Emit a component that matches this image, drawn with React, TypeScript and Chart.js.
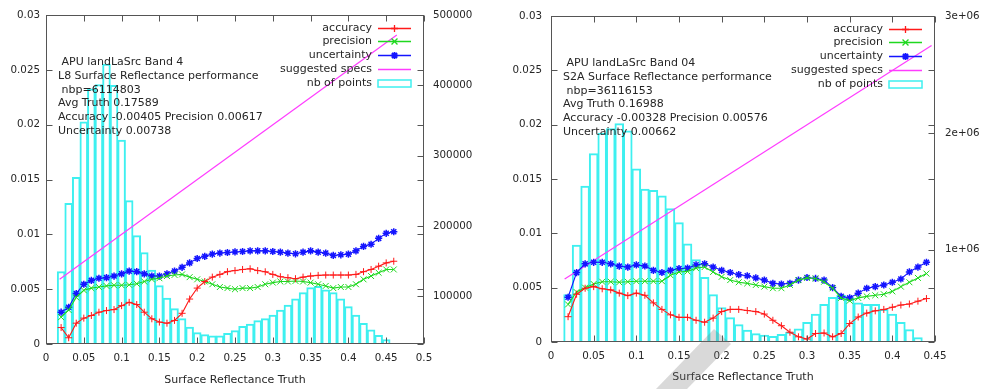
import React, { useEffect, useRef } from "react";
import { Chart, registerables } from "chart.js";

Chart.register(...registerables);

const FONT = "'DejaVu Sans', sans-serif";
const RED = "#ff1a1a";
const GREEN = "#1fd81f";
const BLUE = "#1414ff";
const MAGENTA = "#ff3cff";
const CYAN = "#3ef0f0";
const FRAME = "#555555";
const TEXT = "#262626";

// ================= Panel 1 : L8 =================
const L8_X = [
  0.02, 0.03, 0.04, 0.05, 0.06, 0.07, 0.08, 0.09, 0.1, 0.11, 0.12, 0.13, 0.14, 0.15, 0.16,
  0.17, 0.18, 0.19, 0.2, 0.21, 0.22, 0.23, 0.24, 0.25, 0.26, 0.27, 0.28, 0.29, 0.3, 0.31,
  0.32, 0.33, 0.34, 0.35, 0.36, 0.37, 0.38, 0.39, 0.4, 0.41, 0.42, 0.43, 0.44, 0.45, 0.46,
];
const L8_ACCURACY = [
  0.0015, 0.00057, 0.0019, 0.00236, 0.0026, 0.0029, 0.00305, 0.00314, 0.0035, 0.0038, 0.0036,
  0.0029, 0.0023, 0.002, 0.0019, 0.00215, 0.0028, 0.0041, 0.0051, 0.0057, 0.0061, 0.00635,
  0.0066, 0.0067, 0.0068, 0.00686, 0.0067, 0.00659, 0.00635, 0.00614, 0.00605, 0.00596, 0.0061,
  0.0062, 0.00626, 0.00629, 0.00629, 0.00629, 0.00629, 0.00635, 0.0066, 0.0068, 0.0071, 0.0074,
  0.00755,
];
const L8_PRECISION = [
  0.00245, 0.0031, 0.00425, 0.0049, 0.0051, 0.0052, 0.0053, 0.00536, 0.00536, 0.0054, 0.0055,
  0.0057, 0.0059, 0.006, 0.0062, 0.0063, 0.00635, 0.0061, 0.0059, 0.0057, 0.00545, 0.0052,
  0.0051, 0.005, 0.0051, 0.0051, 0.0052, 0.00545, 0.0056, 0.0057, 0.0057, 0.00575, 0.0057,
  0.0056, 0.00545, 0.0053, 0.0051, 0.0052, 0.0052, 0.00545, 0.0059, 0.0062, 0.0065, 0.0068,
  0.0068,
];
const L8_UNCERTAINTY = [
  0.0029, 0.00335, 0.0046, 0.00545, 0.0058, 0.006, 0.00605, 0.0062, 0.0064, 0.00665, 0.0066,
  0.0064, 0.0062, 0.0062, 0.0064, 0.00665, 0.007, 0.0074, 0.0078, 0.008, 0.0082, 0.0083,
  0.00835, 0.0084, 0.00844, 0.0085, 0.0085, 0.0085, 0.00844, 0.00838, 0.00829, 0.00823, 0.00838,
  0.0085, 0.00838, 0.00829, 0.00808, 0.00814, 0.0082, 0.0085, 0.0089, 0.0091, 0.00964, 0.0101,
  0.01024,
];
const L8_SPEC_X = [0.018, 0.464];
const L8_SPEC_Y = [0.0059, 0.0282];
const L8_HIST_X = [
  0.02, 0.03, 0.04, 0.05, 0.06, 0.07, 0.08, 0.09, 0.1, 0.11, 0.12, 0.13, 0.14, 0.15, 0.16,
  0.17, 0.18, 0.19, 0.2, 0.21, 0.22, 0.23, 0.24, 0.25, 0.26, 0.27, 0.28, 0.29, 0.3, 0.31,
  0.32, 0.33, 0.34, 0.35, 0.36, 0.37, 0.38, 0.39, 0.4, 0.41, 0.42, 0.43, 0.44, 0.45,
];
const L8_HIST = [
  135000, 232000, 269000, 348000, 395000, 401000, 430000, 400000, 322000, 236000, 186000,
  162000, 137000, 115000, 97000, 82000, 68000, 56000, 48000, 45000, 43500, 43500, 47000,
  51000, 57000, 60000, 65000, 68000, 73000, 80000, 87000, 96000, 105000, 112000, 114000,
  109000, 105000, 96000, 85000, 73000, 61000, 52000, 44000, 38000,
];
const L8_X_TICKS = [0, 0.05, 0.1, 0.15, 0.2, 0.25, 0.3, 0.35, 0.4, 0.45, 0.5];
const L8_X_LABELS = ["0", "0.05", "0.1", "0.15", "0.2", "0.25", "0.3", "0.35", "0.4", "0.45", "0.5"];
const L8_Y2_TICKS = [100000, 200000, 300000, 400000, 500000];
const L8_Y2_LABELS = ["100000", "200000", "300000", "400000", "500000"];
const L8_Y2_MIN = 32000;
const L8_Y2_MAX = 500000;
const L8_INFO = [
  " APU landLaSrc Band 4",
  "L8 Surface Reflectance performance",
  " nbp=6114803",
  "Avg Truth 0.17589",
  "Accuracy -0.00405 Precision 0.00617",
  "Uncertainty 0.00738",
];

// ================= Panel 2 : S2A =================
const S2_X = [
  0.02, 0.03, 0.04, 0.05, 0.06, 0.07, 0.08, 0.09, 0.1, 0.11, 0.12, 0.13, 0.14, 0.15, 0.16,
  0.17, 0.18, 0.19, 0.2, 0.21, 0.22, 0.23, 0.24, 0.25, 0.26, 0.27, 0.28, 0.29, 0.3, 0.31,
  0.32, 0.33, 0.34, 0.35, 0.36, 0.37, 0.38, 0.39, 0.4, 0.41, 0.42, 0.43, 0.44,
];
const S2_ACCURACY = [
  0.00233, 0.0044, 0.00495, 0.0051, 0.0049, 0.0048, 0.0045, 0.00427, 0.0045, 0.0043, 0.0036,
  0.003, 0.0025, 0.00227, 0.00227, 0.002, 0.00182, 0.0022, 0.0028, 0.003, 0.003, 0.0029,
  0.0028, 0.00257, 0.002, 0.0015, 0.0009, 0.00048, 0.00027, 0.00078, 0.00083, 0.00048, 0.00078,
  0.0017, 0.0023, 0.00266, 0.00287, 0.003, 0.0032, 0.0034, 0.0035, 0.00376, 0.004,
];
const S2_PRECISION = [
  0.00346, 0.0046, 0.005, 0.00534, 0.00555, 0.00555, 0.0055, 0.00555, 0.0056, 0.0056, 0.0056,
  0.0056, 0.00615, 0.00645, 0.0065, 0.0068, 0.0069, 0.00645, 0.006, 0.0057, 0.0055, 0.0054,
  0.00525, 0.0051, 0.00495, 0.00495, 0.00525, 0.0057, 0.0059, 0.00585, 0.00555, 0.00495,
  0.00406, 0.0038, 0.00406, 0.0042, 0.0043, 0.0044, 0.00466, 0.0051, 0.0055, 0.0059, 0.0063,
];
const S2_UNCERTAINTY = [
  0.00412, 0.00639, 0.0072, 0.00734, 0.00734, 0.0072, 0.00698, 0.0069, 0.0071, 0.007, 0.0066,
  0.0064, 0.0066, 0.00675, 0.0068, 0.0071, 0.0072, 0.0069, 0.0066, 0.0064, 0.0062, 0.0061,
  0.0059, 0.0057, 0.0054, 0.00534, 0.0054, 0.0057, 0.00594, 0.00585, 0.0057, 0.00501, 0.0042,
  0.00406, 0.0045, 0.00495, 0.0051, 0.00525, 0.0055, 0.0058, 0.00645, 0.0069, 0.00734,
];
const S2_SPEC_X = [0.016, 0.446];
const S2_SPEC_Y = [0.0058, 0.0273];
const S2_HIST_X = [
  0.02, 0.03, 0.04, 0.05, 0.06, 0.07, 0.08, 0.09, 0.1, 0.11, 0.12, 0.13, 0.14, 0.15, 0.16,
  0.17, 0.18, 0.19, 0.2, 0.21, 0.22, 0.23, 0.24, 0.25, 0.26, 0.27, 0.28, 0.29, 0.3, 0.31,
  0.32, 0.33, 0.34, 0.35, 0.36, 0.37, 0.38, 0.39, 0.4, 0.41, 0.42, 0.43,
];
const S2_HIST = [
  614000, 1039000, 1544000, 1822000, 1997000, 2036000, 2078000, 2017000, 1692000, 1517000,
  1508000, 1461000, 1350000, 1231000, 1050000, 914000, 762000, 614000, 503000, 418000, 357000,
  311000, 281000, 267000, 258000, 275000, 294000, 322000, 378000, 447000, 531000, 592000,
  608000, 586000, 544000, 531000, 531000, 489000, 447000, 378000, 314000, 247000,
];
const S2_X_TICKS = [0, 0.05, 0.1, 0.15, 0.2, 0.25, 0.3, 0.35, 0.4, 0.45];
const S2_X_LABELS = ["0", "0.05", "0.1", "0.15", "0.2", "0.25", "0.3", "0.35", "0.4", "0.45"];
const S2_Y2_TICKS = [1000000, 2000000, 3000000];
const S2_Y2_LABELS = ["1e+06", "2e+06", "3e+06"];
const S2_Y2_MIN = 210000;
const S2_Y2_MAX = 3000000;
const S2_INFO = [
  " APU landLaSrc Band 04",
  "S2A Surface Reflectance performance",
  " nbp=36116153",
  "Avg Truth 0.16988",
  "Accuracy -0.00328 Precision 0.00576",
  "Uncertainty 0.00662",
];

// shared left axis
const Y_TICKS = [0, 0.005, 0.01, 0.015, 0.02, 0.025, 0.03];
const Y_LABELS = ["0", "0.005", "0.01", "0.015", "0.02", "0.025", "0.03"];
const X_TITLE = "Surface Reflectance Truth";

// ---------- helpers ----------
function drawMarker(ctx: CanvasRenderingContext2D, style: string, x: number, y: number, r: number) {
  ctx.beginPath();
  if (style === "cross" || style === "star") {
    ctx.moveTo(x - r, y);
    ctx.lineTo(x + r, y);
    ctx.moveTo(x, y - r);
    ctx.lineTo(x, y + r);
  }
  if (style === "crossRot" || style === "star") {
    const d = r * Math.SQRT1_2;
    ctx.moveTo(x - d, y - d);
    ctx.lineTo(x + d, y + d);
    ctx.moveTo(x - d, y + d);
    ctx.lineTo(x + d, y - d);
  }
  ctx.stroke();
}

const framePlugin = {
  id: "gpFrame",
  afterDatasetsDraw(chart: any) {
    const { ctx, chartArea: a, scales } = chart;
    const L = Math.round(a.left) + 0.5;
    const R = Math.round(a.right) - 0.5;
    const T = Math.round(a.top) + 0.5;
    const B = Math.round(a.bottom) - 0.5;
    const len = 6;
    ctx.save();
    ctx.strokeStyle = FRAME;
    ctx.lineWidth = 1;
    ctx.strokeRect(L, T, R - L, B - T);
    ctx.beginPath();
    for (const t of scales.x.ticks) {
      const px = Math.round(scales.x.getPixelForValue(t.value)) + 0.5;
      ctx.moveTo(px, B);
      ctx.lineTo(px, B - len);
      ctx.moveTo(px, T);
      ctx.lineTo(px, T + len);
    }
    for (const t of scales.y.ticks) {
      const py = Math.round(scales.y.getPixelForValue(t.value)) + 0.5;
      ctx.moveTo(L, py);
      ctx.lineTo(L + len, py);
      ctx.moveTo(R, py);
      ctx.lineTo(R - len, py);
    }
    for (const t of scales.y2.ticks) {
      const py = Math.round(scales.y2.getPixelForValue(t.value)) + 0.5;
      ctx.moveTo(R, py);
      ctx.lineTo(R - len, py);
    }
    ctx.stroke();
    ctx.restore();
  },
};

const overlayPlugin = {
  id: "gpOverlay",
  afterDraw(chart: any, _args: any, opts: any) {
    const { ctx, chartArea: a } = chart;
    ctx.save();
    ctx.font = `11px ${FONT}`;
    ctx.fillStyle = TEXT;
    ctx.textBaseline = "middle";
    ctx.textAlign = "left";
    (opts.info as string[]).forEach((line, i) => {
      ctx.fillText(line, a.left + 12, a.top + 47 + i * 13.8);
    });
    // legend
    const textRight = a.right - 52;
    const s0 = a.right - 46;
    const s1 = a.right - 13;
    chart.data.datasets.forEach((ds: any, i: number) => {
      const y = Math.round(a.top + 12.5 + i * 13.8) + 0.5;
      ctx.fillStyle = TEXT;
      ctx.textAlign = "right";
      ctx.fillText(ds.label, textRight, y);
      ctx.strokeStyle = ds.borderColor;
      ctx.lineWidth = 1.5;
      if (ds.type === "bar") {
        ctx.strokeRect(s0, y - 3.5, s1 - s0, 7);
      } else {
        ctx.beginPath();
        ctx.moveTo(s0, y);
        ctx.lineTo(s1, y);
        ctx.stroke();
        if (ds.pointRadius > 0) {
          ctx.lineWidth = ds.pointBorderWidth + 0.3;
          drawMarker(ctx, ds.pointStyle, (s0 + s1) / 2, y, ds.pointRadius);
        }
      }
    });
    ctx.restore();
  },
};

type PanelData = {
  x: number[];
  acc: number[];
  prec: number[];
  unc: number[];
  specX: number[];
  specY: number[];
  histX: number[];
  hist: number[];
  xTicks: number[];
  xLabels: string[];
  xMax: number;
  y2Ticks: number[];
  y2Labels: string[];
  y2Min: number;
  y2Max: number;
  info: string[];
};

type PanelLayout = {
  left: number;
  top: number;
  yWidth: number;
  y2Width: number;
  xHeight: number;
  yPad: number;
  y2Pad: number;
  titleBottom: number;
};

const L8_PANEL: PanelData = {
  x: L8_X, acc: L8_ACCURACY, prec: L8_PRECISION, unc: L8_UNCERTAINTY,
  specX: L8_SPEC_X, specY: L8_SPEC_Y, histX: L8_HIST_X, hist: L8_HIST,
  xTicks: L8_X_TICKS, xLabels: L8_X_LABELS, xMax: 0.5,
  y2Ticks: L8_Y2_TICKS, y2Labels: L8_Y2_LABELS, y2Min: L8_Y2_MIN, y2Max: L8_Y2_MAX,
  info: L8_INFO,
};
const S2_PANEL: PanelData = {
  x: S2_X, acc: S2_ACCURACY, prec: S2_PRECISION, unc: S2_UNCERTAINTY,
  specX: S2_SPEC_X, specY: S2_SPEC_Y, histX: S2_HIST_X, hist: S2_HIST,
  xTicks: S2_X_TICKS, xLabels: S2_X_LABELS, xMax: 0.45,
  y2Ticks: S2_Y2_TICKS, y2Labels: S2_Y2_LABELS, y2Min: S2_Y2_MIN, y2Max: S2_Y2_MAX,
  info: S2_INFO,
};

const L8_LAYOUT: PanelLayout = { left: 0, top: 10, yWidth: 46, y2Width: 67, xHeight: 45, yPad: 6, y2Pad: 9, titleBottom: 2.4 };
const S2_LAYOUT: PanelLayout = { left: 491, top: 7, yWidth: 60, y2Width: 47, xHeight: 47, yPad: 9, y2Pad: 10, titleBottom: 5.4 };

const W = 491;
const H = 389;

function zip(xs: number[], ys: number[]) {
  return xs.map((x, i) => ({ x, y: ys[i] }));
}

function makeConfig(p: PanelData, l: PanelLayout): any {
  const tickFont = { family: FONT, size: 10.3 };
  const lineDs = (label: string, ys: number[], color: string, style: string, r: number, bw: number) => ({
    type: "line",
    label,
    data: zip(p.x, ys),
    yAxisID: "y",
    borderColor: color,
    backgroundColor: color,
    borderWidth: 1.1,
    pointStyle: style,
    pointRadius: r,
    pointBorderWidth: bw,
    pointBorderColor: color,
    pointBackgroundColor: color,
    tension: 0,
    fill: false,
    order: 1,
  });
  return {
    type: "line",
    data: {
      datasets: [
        lineDs("accuracy", p.acc, RED, "cross", 3.5, 1),
        lineDs("precision", p.prec, GREEN, "crossRot", 4.2, 1),
        lineDs("uncertainty", p.unc, BLUE, "star", 3.6, 1.5),
        {
          type: "line",
          label: "suggested specs",
          data: zip(p.specX, p.specY),
          yAxisID: "y",
          borderColor: MAGENTA,
          backgroundColor: MAGENTA,
          borderWidth: 1.2,
          pointRadius: 0,
          pointStyle: "line",
          pointBorderWidth: 0,
          tension: 0,
          fill: false,
          order: 2,
        },
        {
          type: "bar",
          label: "nb of points",
          data: zip(p.histX, p.hist),
          yAxisID: "y2",
          borderColor: CYAN,
          backgroundColor: "rgba(0,0,0,0)",
          borderWidth: 1,
          inflateAmount: 0.5,
          borderSkipped: false,
          barPercentage: 1,
          categoryPercentage: 1,
          order: 10,
        },
      ],
    },
    options: {
      animation: false,
      responsive: false,
      devicePixelRatio: 1,
      events: [],
      layout: { padding: { top: l.top, left: 0, right: 0, bottom: 0 } },
      plugins: {
        legend: { display: false },
        tooltip: { enabled: false },
        gpOverlay: { info: p.info },
      },
      scales: {
        x: {
          type: "linear",
          min: 0,
          max: p.xMax,
          offset: false,
          grid: { display: false, drawTicks: false, offset: false },
          border: { display: false },
          afterBuildTicks: (s: any) => {
            s.ticks = p.xTicks.map((v) => ({ value: v }));
          },
          afterFit: (s: any) => {
            s.height = l.xHeight;
          },
          ticks: {
            font: tickFont,
            color: TEXT,
            padding: 8,
            autoSkip: false,
            maxRotation: 0,
            callback: (_v: any, i: number) => p.xLabels[i],
          },
          title: {
            display: true,
            text: X_TITLE,
            color: TEXT,
            font: { family: FONT, size: 11 },
            padding: { top: 0, bottom: l.titleBottom },
          },
        },
        y: {
          type: "linear",
          position: "left",
          min: 0,
          max: 0.03,
          grid: { display: false, drawTicks: false },
          border: { display: false },
          afterBuildTicks: (s: any) => {
            s.ticks = Y_TICKS.map((v) => ({ value: v }));
          },
          afterFit: (s: any) => {
            s.width = l.yWidth;
          },
          ticks: {
            font: tickFont,
            color: TEXT,
            padding: l.yPad,
            autoSkip: false,
            callback: (_v: any, i: number) => Y_LABELS[i],
          },
        },
        y2: {
          type: "linear",
          position: "right",
          min: p.y2Min,
          max: p.y2Max,
          grid: { display: false, drawTicks: false },
          border: { display: false },
          afterBuildTicks: (s: any) => {
            s.ticks = p.y2Ticks.map((v) => ({ value: v }));
          },
          afterFit: (s: any) => {
            s.width = l.y2Width;
          },
          ticks: {
            font: tickFont,
            color: TEXT,
            padding: l.y2Pad,
            autoSkip: false,
            callback: (_v: any, i: number) => p.y2Labels[i],
          },
        },
      },
    },
    plugins: [framePlugin, overlayPlugin],
  };
}

function Panel({ data, layout }: { data: PanelData; layout: PanelLayout }) {
  const ref = useRef<HTMLCanvasElement>(null);
  useEffect(() => {
    if (!ref.current) return;
    const chart = new Chart(ref.current, makeConfig(data, layout));
    return () => chart.destroy();
  }, [data, layout]);
  return (
    <canvas
      ref={ref}
      width={W}
      height={H}
      style={{ position: "absolute", left: layout.left, top: 0, width: W, height: H }}
    />
  );
}

export default function App() {
  return (
    <div
      style={{
        position: "absolute",
        left: 0,
        top: 0,
        width: 982,
        height: 389,
        background: "#ffffff",
        overflow: "hidden",
      }}
    >
      <Panel data={L8_PANEL} layout={L8_LAYOUT} />
      <Panel data={S2_PANEL} layout={S2_LAYOUT} />
      <div
        style={{
          position: "absolute",
          left: 0,
          top: 0,
          width: 982,
          height: 389,
          pointerEvents: "none",
          background: "rgba(120,120,120,0.28)",
          clipPath: "polygon(714px 329px, 731px 344px, 687px 389px, 656px 389px)",
        }}
      />
    </div>
  );
}
